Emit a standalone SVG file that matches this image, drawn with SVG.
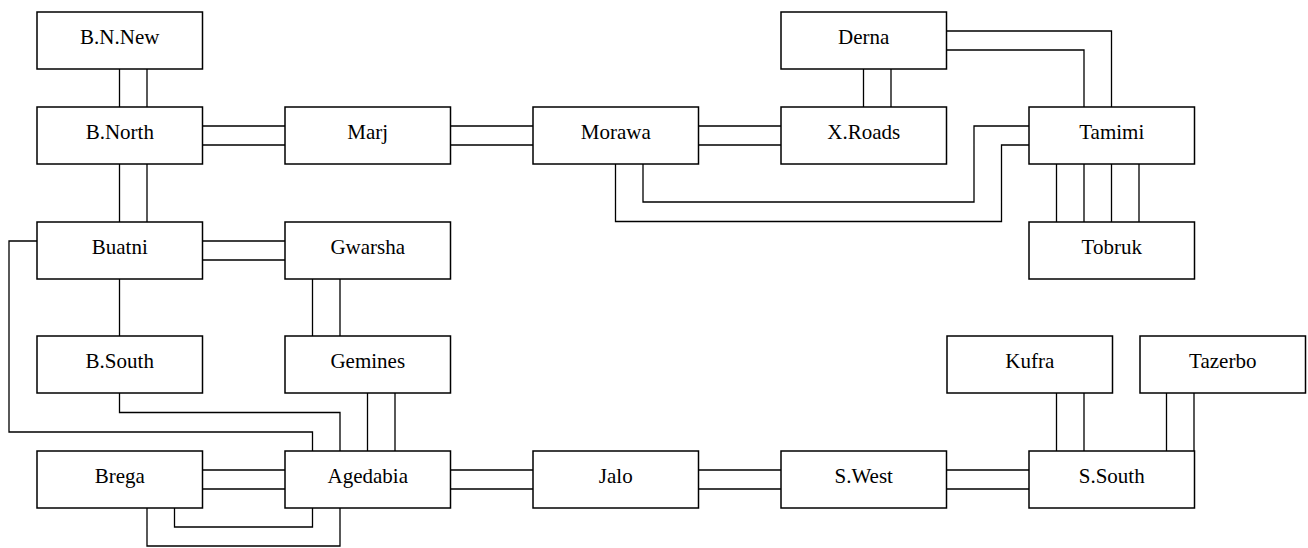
<svg xmlns="http://www.w3.org/2000/svg" width="1308" height="548" viewBox="0 0 1308 548">
<style>
.box{fill:#fff;stroke:#000;stroke-width:1.5}
.lbl{font-family:"Liberation Serif","Times New Roman",serif;font-size:21px;text-anchor:middle;fill:#000}
.c path{fill:none;stroke:#000;stroke-width:1.3}
</style>
<rect width="1308" height="548" fill="#fff"/>
<g class="c" id="connectors">
<path d="M119.5,69V107M147,69V107"/>
<path d="M119.5,164V222M147,164V222"/>
<path d="M202.5,126H285M202.5,145H285"/>
<path d="M450.5,126H533M450.5,145H533"/>
<path d="M698.5,126H781M698.5,145H781"/>
<path d="M863.5,69V107M891,69V107"/>
<path d="M946.5,31H1111.5V107M946.5,50H1084V107"/>
<path d="M643,164V202H974V126H1029M615.5,164V221.5H1001.5V145H1029"/>
<path d="M1056.5,164V222M1084,164V222M1111.5,164V222M1139,164V222"/>
<path d="M202.5,241H285M202.5,260H285"/>
<path d="M119.5,279V336"/>
<path d="M37,241H9V432H312.5V451"/>
<path d="M312.5,279V336M340,279V336"/>
<path d="M119.5,393V412.5H340V451"/>
<path d="M367.5,393V451M395,393V451"/>
<path d="M202.5,470H285M202.5,489H285"/>
<path d="M174.5,508V527H312.5V508M147,508V546H340V508"/>
<path d="M450.5,470H533M450.5,489H533"/>
<path d="M698.5,470H781M698.5,489H781"/>
<path d="M946.5,470H1029M946.5,489H1029"/>
<path d="M1056.5,393V451M1084,393V451"/>
<path d="M1166.5,393V451M1194,393V451"/>
</g>
<g id="bnnew"><rect class="box" x="37" y="12" width="165.5" height="57"/><text class="lbl" x="119.75" y="43.5">B.N.New</text></g>
<g id="bnorth"><rect class="box" x="37" y="107" width="165.5" height="57"/><text class="lbl" x="119.75" y="138.5">B.North</text></g>
<g id="marj"><rect class="box" x="285" y="107" width="165.5" height="57"/><text class="lbl" x="367.75" y="138.5">Marj</text></g>
<g id="morawa"><rect class="box" x="533" y="107" width="165.5" height="57"/><text class="lbl" x="615.75" y="138.5">Morawa</text></g>
<g id="derna"><rect class="box" x="781" y="12" width="165.5" height="57"/><text class="lbl" x="863.75" y="43.5">Derna</text></g>
<g id="xroads"><rect class="box" x="781" y="107" width="165.5" height="57"/><text class="lbl" x="863.75" y="138.5">X.Roads</text></g>
<g id="tamimi"><rect class="box" x="1029" y="107" width="165.5" height="57"/><text class="lbl" x="1111.75" y="138.5">Tamimi</text></g>
<g id="tobruk"><rect class="box" x="1029" y="222" width="165.5" height="57"/><text class="lbl" x="1111.75" y="253.5">Tobruk</text></g>
<g id="buatni"><rect class="box" x="37" y="222" width="165.5" height="57"/><text class="lbl" x="119.75" y="253.5">Buatni</text></g>
<g id="gwarsha"><rect class="box" x="285" y="222" width="165.5" height="57"/><text class="lbl" x="367.75" y="253.5">Gwarsha</text></g>
<g id="bsouth"><rect class="box" x="37" y="336" width="165.5" height="57"/><text class="lbl" x="119.75" y="367.5">B.South</text></g>
<g id="gemines"><rect class="box" x="285" y="336" width="165.5" height="57"/><text class="lbl" x="367.75" y="367.5">Gemines</text></g>
<g id="kufra"><rect class="box" x="947" y="336" width="165.5" height="57"/><text class="lbl" x="1029.75" y="367.5">Kufra</text></g>
<g id="tazerbo"><rect class="box" x="1140" y="336" width="165.5" height="57"/><text class="lbl" x="1222.75" y="367.5">Tazerbo</text></g>
<g id="brega"><rect class="box" x="37" y="451" width="165.5" height="57"/><text class="lbl" x="119.75" y="482.5">Brega</text></g>
<g id="agedabia"><rect class="box" x="285" y="451" width="165.5" height="57"/><text class="lbl" x="367.75" y="482.5">Agedabia</text></g>
<g id="jalo"><rect class="box" x="533" y="451" width="165.5" height="57"/><text class="lbl" x="615.75" y="482.5">Jalo</text></g>
<g id="swest"><rect class="box" x="781" y="451" width="165.5" height="57"/><text class="lbl" x="863.75" y="482.5">S.West</text></g>
<g id="ssouth"><rect class="box" x="1029" y="451" width="165.5" height="57"/><text class="lbl" x="1111.75" y="482.5">S.South</text></g>
</svg>
